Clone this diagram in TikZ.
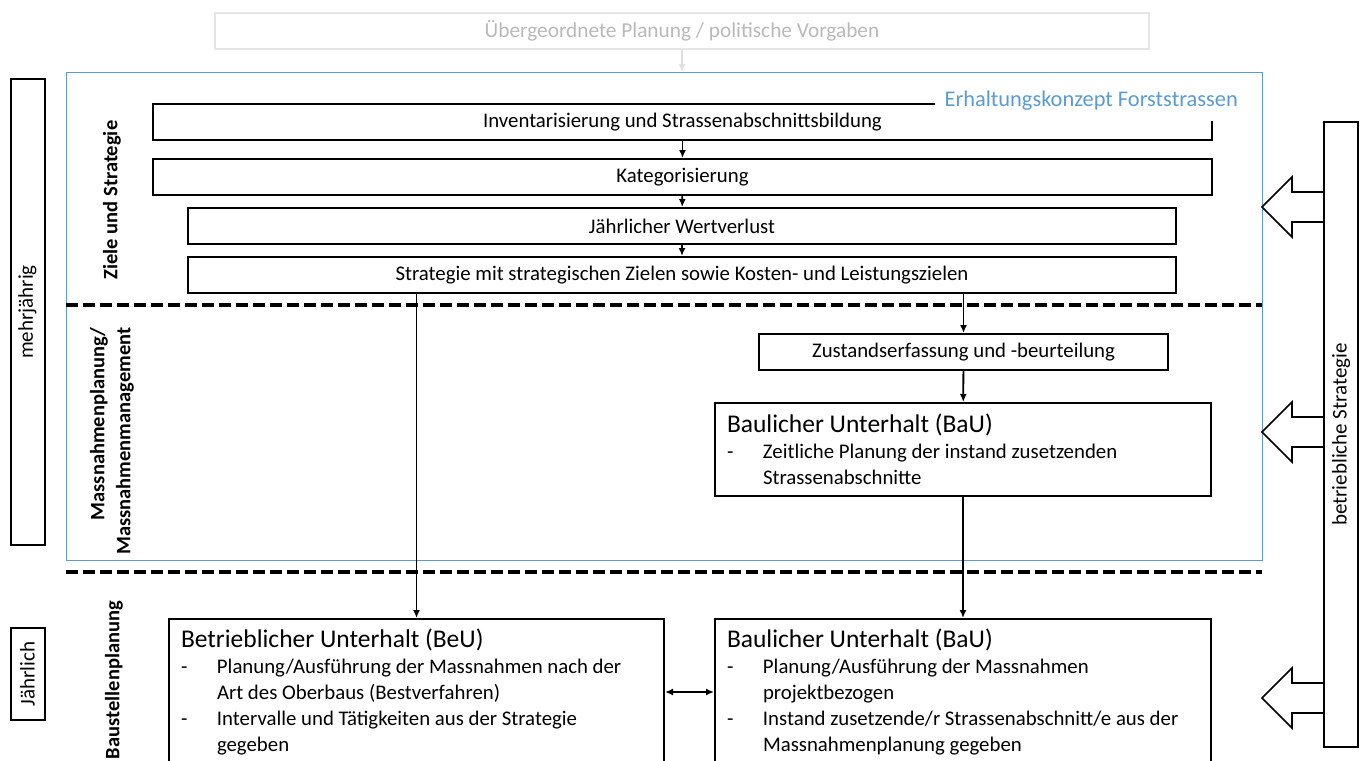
\documentclass[tikz,border=0pt]{standalone}
\usepackage{fontspec}
\setmainfont{Carlito}
\usetikzlibrary{arrows.meta, positioning}

\definecolor{konzeptblau}{RGB}{91,155,213}
\newcommand{\bul}{\makebox[36pt][l]{-}}
\newcommand{\ind}{\hspace*{36pt}}
\newcommand{\boxtitle}[1]{{\fontsize{25.5}{30}\selectfont #1}}

\begin{document}
\begin{tikzpicture}[x=1pt, y=-1pt,
  box/.style={draw, line width=2pt, anchor=north west, inner sep=0pt,
    minimum height=36pt, font=\fontsize{20.8}{24}\selectfont},
  bigbox/.style={draw, line width=2pt, anchor=north west, align=flush left,
    inner xsep=12pt, inner ysep=0pt, text width=472pt,
    font=\fontsize{20.8}{26}\selectfont},
  side/.style={draw, line width=2pt, rotate=90, minimum height=34pt,
    inner sep=0pt, font=\fontsize{21}{24}\selectfont},
  phase/.style={rotate=90, align=right, font=\fontsize{20.5}{26}\selectfont\bfseries},
  flow/.style={-{Latex[length=8pt, width=7pt]}, line width=1.8pt},
  level/.style={line width=4pt, dash pattern=on 12pt off 5pt},
  hollow/.style={draw, line width=1.6pt, fill=white}
]
  \clip (0,0) rectangle (1362,760);

  % Superior planning (greyed out).
  \node[box, draw=gray!20, text=gray!55, minimum width=934pt,
    font=\fontsize{21.3}{24}\selectfont] (ueber) at (214,12)
    {Übergeordnete Planung / politische Vorgaben};

  % Frame of the concept.
  \node[draw=konzeptblau, line width=1.4pt, anchor=north west,
    minimum width=1196pt, minimum height=488pt] (rahmen) at (66,72) {};
  \draw[flow, gray!25] (ueber.south) -- (ueber.south |- rahmen.north);

  % Goals and strategy.
  \node[box, minimum width=1059pt] (inv) at (152,103)
    {Inventarisierung und Strassenabschnittsbildung};
  \node[box, minimum width=1059pt] (kat) at (152,158) {Kategorisierung};
  \node[box, minimum width=988pt] (wert) at (187,207) {Jährlicher Wertverlust};
  \node[box, minimum width=988pt] (strat) at (187,256)
    {Strategie mit strategischen Zielen sowie Kosten- und Leistungszielen};
  \node[anchor=east, fill=white, text=konzeptblau, inner xsep=10pt,
    minimum height=40pt, font=\fontsize{22.4}{26}\selectfont] (titel)
    at (1248,101) {Erhaltungskonzept Forststrassen};

  \draw[flow] (inv) -- (kat);
  \draw[flow] (kat) -- (wert);
  \draw[flow] (wert) -- (strat);

  % Planning levels.
  \draw[level] (66,305) -- (1262,305);
  \draw[level] (66,572) -- (1262,572);

  % Measures planning.
  \node[box, minimum width=409pt] (zust) at (758,333)
    {Zustandserfassung und -beurteilung};
  \node[bigbox, minimum height=93pt] (bau1) at (714,402)
    {\boxtitle{Baulicher Unterhalt (BaU)}\\
     \bul Zeitliche Planung der instand zusetzenden\\
     \ind Strassenabschnitte};

  % Site planning.
  \node[bigbox, text width=471pt, minimum height=146pt] (beu) at (168,618)
    {\boxtitle{Betrieblicher Unterhalt (BeU)}\\
     \bul Planung/Ausführung der Massnahmen nach der\\
     \ind Art des Oberbaus (Bestverfahren)\\
     \bul Intervalle und Tätigkeiten aus der Strategie\\
     \ind gegeben};
  \node[bigbox, minimum height=146pt] (bau2) at (714,618)
    {\boxtitle{Baulicher Unterhalt (BaU)}\\
     \bul Planung/Ausführung der Massnahmen\\
     \ind projektbezogen\\
     \bul Instand zusetzende/r Strassenabschnitt/e aus der\\
     \ind Massnahmenplanung gegeben};

  \draw[flow] (strat.south -| zust.north) -- (zust.north);
  \draw[flow] (zust) -- (bau1);
  \draw[flow] (bau1) -- (bau2);
  \draw[flow] (strat.south -| beu.north) -- (beu.north);
  \draw[{Latex[length=8pt, width=7pt]}-{Latex[length=8pt, width=7pt]},
    line width=1.6pt] (beu.east) -- (bau2.west);

  % Phase labels.
  \node[phase] (ziele) at (112,200) {Ziele und Strategie};
  \node[phase] (massn) at (112,441) {Massnahmenplanung/\\Massnahmenmanagement};
  \node[phase] (baust) at (114,680) {Baustellenplanung};

  % Time horizon.
  \node[side, minimum width=466pt] (mehr) at (27.5,312) {mehrjährig};
  \node[side, minimum width=92pt] (jaehr) at (27.5,674) {Jährlich};

  % Operational strategy with hollow arrows.
  \foreach \y in {207,432,698}
    \draw[hollow] (1262,\y) -- (1292,\y-30) -- (1292,\y-15) -- (1324,\y-15)
      -- (1324,\y+15) -- (1292,\y+15) -- (1292,\y+30) -- cycle;
  \node[side, minimum width=625pt] (betr) at (1341,434.5) {betriebliche Strategie};
\end{tikzpicture}
\end{document}
